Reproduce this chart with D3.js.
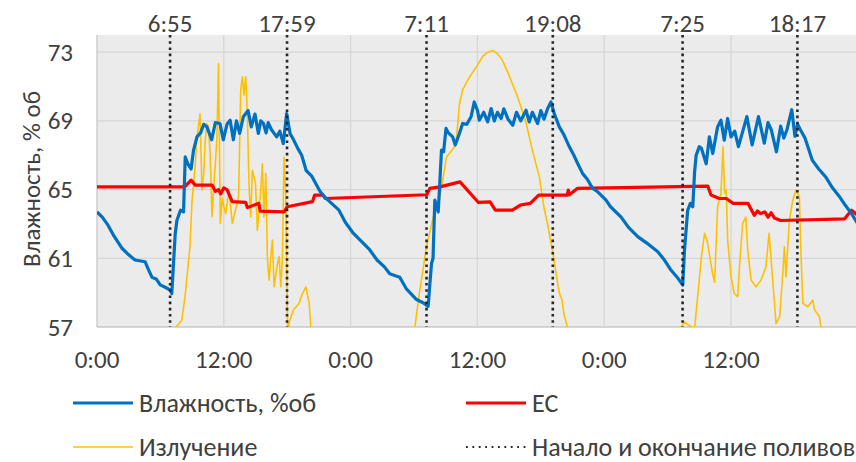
<!DOCTYPE html>
<html>
<head>
<meta charset="utf-8">
<script src="https://cdn.jsdelivr.net/npm/d3@7/dist/d3.min.js"></script>
<style>
  html, body { margin: 0; padding: 0; background: #fff; }
  svg { display: block; }
  text { font-family: Carlito, "Noto Sans", "Open Sans", sans-serif; fill: #404040; }
</style>
</head>
<body>
<svg id="chart" width="856" height="462"></svg>
<script>
// ---------------- DATA ----------------
const xTickHours = [0, 12, 24, 36, 48, 60];
const xTickLabels = ["0:00", "12:00", "0:00", "12:00", "0:00", "12:00"];
const yTicks = [57, 61, 65, 69, 73];

const irrigationHours = [6 + 55/60, 17 + 59/60, 24 + 7 + 11/60, 24 + 19 + 8/60, 48 + 7 + 25/60, 48 + 18 + 17/60];
const irrigationLabels = ["6:55", "17:59", "7:11", "19:08", "7:25", "18:17"];

// Humidity, % vol
const humHours = [0,0.5,1.07,1.6,2.34,3.0,3.6,4.55,4.9,5.2,5.6,5.98,6.5,6.93,7.08,7.24,7.4,7.56,7.9,8.19,8.35,8.6,8.9,9.14,9.46,9.8,10.1,10.4,10.85,11.2,11.64,11.95,12.3,12.6,12.9,13.2,13.5,13.85,14.3,14.6,14.95,15.27,15.5,15.75,16.0,16.2,16.5,17.0,17.3,17.63,17.95,18.27,18.6,19.0,19.37,19.8,20.3,21.1,21.5,22.2,22.9,23.5,24.2,25.0,25.8,26.5,27.2,27.7,28.65,29.3,30.24,30.9,31.34,31.5,31.66,31.8,31.97,32.15,32.29,32.45,32.6,32.8,33.03,33.25,33.66,33.9,34.3,34.6,35.0,35.4,35.7,36.0,36.18,36.6,36.97,37.3,37.6,37.9,38.24,38.5,38.9,39.35,39.7,40.1,40.6,40.9,41.2,41.7,42.0,42.3,42.65,42.96,43.27,43.75,44.18,44.7,45.13,45.5,45.96,46.4,46.9,47.34,48.17,48.6,49.6,50.3,51.2,52.0,53.07,53.7,54.33,54.9,55.43,55.6,55.9,56.15,56.38,56.55,56.7,57.0,57.2,57.65,57.95,58.27,58.73,59.05,59.36,59.68,60.0,60.35,60.7,61.5,62.0,62.6,63.15,63.5,63.8,64.3,64.7,65.0,65.3,65.75,66.05,66.3,66.55,67.0,67.7,68.3,69.0,69.6,70.25,70.8,71.4,72.0];
const humValues = [63.7,63.4,62.9,62.3,61.6,61.2,60.9,60.8,60.3,59.9,59.8,59.45,59.3,59.15,58.95,60.7,62.4,63.2,63.8,63.7,66.9,66.5,66.2,67.3,68.07,68.3,68.8,68.65,67.9,68.9,68.85,67.9,68.8,69.04,67.9,69.0,68.27,69.24,69.6,68.65,69.4,68.27,69.0,68.85,68.3,68.9,68.5,68.07,68.4,67.68,69.43,68.27,67.9,67.4,67.0,66.1,65.8,64.9,64.6,64.2,63.8,63.1,62.5,62.0,61.5,60.9,60.5,60.1,59.9,59.2,58.6,58.4,58.2,59.5,60.7,61.0,64.39,64.0,63.7,65.5,67.3,67.2,68.56,68.3,68.07,67.6,68.27,68.85,68.8,69.24,70.1,69.62,69.04,69.5,68.94,69.72,69.0,69.5,69.14,69.7,69.1,68.75,69.5,69.0,69.62,68.94,69.5,68.85,69.6,69.1,69.72,70.1,69.43,68.65,68.2,67.49,67.0,66.5,65.93,65.6,65.07,64.9,64.39,64.0,63.4,62.8,62.25,61.9,61.38,60.9,60.3,59.9,59.44,61.5,63.8,64.2,64.0,66.0,67.0,67.5,67.4,66.5,68.07,67.1,68.65,69.04,67.88,69.14,68.07,68.4,67.5,69.25,67.6,69.25,67.7,68.9,68.5,67.2,68.7,68.0,68.5,69.65,68.1,68.8,68.5,68.0,66.7,66.2,65.7,65.1,64.6,64.1,63.6,63.0];

// EC (plotted on the same visual scale)
const ecHours = [0,8.3,8.9,9.3,10.9,11.2,11.5,11.7,12.0,12.3,12.8,14.07,14.23,15.3,15.45,17.7,18.0,20.4,20.6,21.4,21.6,31.2,31.5,32.45,34.35,36.1,37.2,37.7,39.3,40.07,41.0,41.8,44.5,44.6,44.7,45.45,53.7,57.8,58.1,58.9,59.55,60.2,61.6,62.2,62.5,62.8,63.2,63.5,63.8,64.1,64.7,70.75,71.4,72.0];
const ecValues = [65.16,65.16,65.55,65.26,65.26,64.9,65.0,64.75,65.1,65.0,64.3,64.25,63.95,64.2,63.75,63.7,64.0,64.3,64.68,64.68,64.48,64.7,65.07,65.16,65.45,64.25,64.29,63.8,63.8,64.1,64.2,64.68,64.68,64.97,64.7,65.07,65.16,65.2,64.68,64.48,64.48,64.2,64.2,63.5,63.75,63.6,63.7,63.4,63.65,63.35,63.2,63.3,63.8,63.5];

// Radiation (secondary axis, not shown; values read on the visible scale)
const radHours = [0,7.3,7.5,8.02,8.33,8.64,8.8,8.98,9.3,9.43,9.75,9.93,10.1,10.25,10.4,10.56,10.72,10.88,11.05,11.2,11.35,11.5,11.67,11.85,12.0,12.17,12.5,12.8,13.1,13.4,13.6,13.76,13.9,14.07,14.23,14.39,14.55,14.7,15.0,15.18,15.5,15.65,15.8,15.97,16.13,16.29,16.45,16.6,16.76,17.08,17.24,17.39,17.55,17.7,17.87,18.03,18.1,18.2,18.6,19.13,19.4,19.77,20.08,20.24,20.5,29.7,30.08,30.55,31.18,32.13,32.4,33.08,33.97,34.3,34.6,35.2,35.96,36.5,36.97,37.45,37.9,38.3,38.86,39.8,40.6,41.2,41.86,42.29,42.76,43.2,43.7,43.85,44.0,44.18,44.5,44.8,55.0,55.28,55.6,56.0,56.55,56.9,57.2,57.5,57.75,58.26,58.45,58.73,59.05,59.24,59.4,59.55,59.68,60.0,60.3,60.63,60.8,61.1,61.4,61.58,61.9,62.37,62.84,63.3,63.6,63.8,64.26,64.6,64.9,65.05,65.2,65.52,65.84,66.15,66.47,66.63,66.8,67.27,67.74,67.9,68.37,68.5,68.8,72.0];
const radValues = [50,50,57,57.4,58.76,60.7,61.67,64.2,66.5,67.88,69.4,64.97,66.0,67.88,68.85,68.65,66.9,63.4,65.2,66.5,68.0,72.34,63.03,64.5,64.0,63.6,65.0,63.03,63.8,64.58,70.8,71.56,70.5,71.56,69.4,65.16,63.4,66.13,65.36,62.64,64.97,66.5,63.4,65.93,60.9,59.73,61.1,62.06,59.34,60.7,61.1,59.34,61.0,66.9,64.58,57.2,56.5,57.3,58.0,58.38,58.9,59.34,58.38,57.0,50,50,57,59.15,61.67,64.2,64.39,66.9,67.6,70.0,70.8,71.5,72.2,72.75,73.0,73.1,72.9,72.6,71.85,70.4,68.9,67.3,65.74,64.0,62.6,61.1,59.15,58.8,58.6,57.8,57.0,50,50,57,57.3,57.1,56.9,59.15,61.1,62.45,62.0,60.1,59.6,64.0,64.78,67.49,64.8,64.97,62.06,59.93,58.96,58.76,60.5,63.03,63.4,61.48,59.73,59.34,59.73,60.5,62.45,60.9,57.2,57.6,60.1,61.67,59.93,63.2,64.39,64.97,64.58,61.1,58.38,58.18,58.57,58.0,57.6,57.0,50,50];

const seriesNames = ["Влажность, %об", "EC", "Излучение", "Начало и окончание поливов"];
const yTitle = "Влажность, % об";

// ---------------- CHART ----------------
const svg = d3.select("#chart");
const plot = { left: 97, right: 856, top: 35, bottom: 327 };
const pxPerHour = 10.567;
const FS = 25;
const LFS = 26;

const x = d3.scaleLinear().domain([0, 72]).range([plot.left, plot.left + 72 * pxPerHour]);
const y = d3.scaleLinear().domain([57, 74]).range([plot.bottom, plot.top]);

svg.append("defs").append("clipPath").attr("id", "clip")
  .append("rect")
  .attr("x", plot.left).attr("y", plot.top)
  .attr("width", plot.right - plot.left).attr("height", plot.bottom - plot.top);

// background
svg.append("rect")
  .attr("x", plot.left).attr("y", plot.top)
  .attr("width", plot.right - plot.left).attr("height", plot.bottom - plot.top)
  .attr("fill", "#ebebeb");

// horizontal gridlines
svg.append("g").selectAll("line").data(yTicks).join("line")
  .attr("x1", plot.left).attr("x2", plot.right)
  .attr("y1", d => y(d)).attr("y2", d => y(d))
  .attr("stroke", d => d === 57 ? "#c8c8c8" : "#d6d6d6").attr("stroke-width", 1.3);

// vertical gridlines
svg.append("g").selectAll("line").data(xTickHours).join("line")
  .attr("x1", d => x(d)).attr("x2", d => x(d))
  .attr("y1", plot.top).attr("y2", plot.bottom)
  .attr("stroke", d => d === 0 ? "#c8c8c8" : "#d6d6d6").attr("stroke-width", 1.3);

// y tick labels
svg.append("g").selectAll("text").data(yTicks).join("text")
  .attr("x", 73).attr("y", d => y(d)).attr("dy", "0.34em")
  .attr("text-anchor", "end").attr("font-size", FS)
  .text(d => d);

// x tick labels
svg.append("g").selectAll("text").data(xTickHours).join("text")
  .attr("x", d => x(d)).attr("y", 368)
  .attr("text-anchor", "middle").attr("font-size", FS)
  .text((d, i) => xTickLabels[i]);

// y title
svg.append("text")
  .attr("transform", `translate(40,${(plot.top + plot.bottom) / 2 - 2}) rotate(-90)`)
  .attr("text-anchor", "middle").attr("font-size", FS)
  .text(yTitle);

const g = svg.append("g").attr("clip-path", "url(#clip)");
const line = d3.line().x(d => x(d[0])).y(d => y(d[1]));

// radiation
g.append("path").datum(radHours.map((h, i) => [h, radValues[i]]))
  .attr("d", line).attr("fill", "none").attr("stroke", "#ffc000").attr("stroke-width", 1.6)
  .attr("stroke-linejoin", "round");
// EC
g.append("path").datum(ecHours.map((h, i) => [h, ecValues[i]]))
  .attr("d", line).attr("fill", "none").attr("stroke", "#ff0000").attr("stroke-width", 3.2)
  .attr("stroke-linejoin", "round");
// humidity
g.append("path").datum(humHours.map((h, i) => [h, humValues[i]]))
  .attr("d", line).attr("fill", "none").attr("stroke", "#0070c0").attr("stroke-width", 3.2)
  .attr("stroke-linejoin", "round");

// irrigation dotted lines
svg.append("g").selectAll("line").data(irrigationHours).join("line")
  .attr("x1", d => x(d)).attr("x2", d => x(d))
  .attr("y1", plot.top).attr("y2", plot.bottom)
  .attr("stroke", "#262626").attr("stroke-width", 2.6).attr("stroke-dasharray", "2.6 3.6");

svg.append("g").selectAll("text").data(irrigationHours).join("text")
  .attr("x", d => x(d)).attr("y", 32)
  .attr("text-anchor", "middle").attr("font-size", FS)
  .text((d, i) => irrigationLabels[i]);

// legend
const legendItems = [
  { name: seriesNames[0], color: "#0070c0", w: 3.2, dash: null, lx: 73, ly: 403 },
  { name: seriesNames[1], color: "#ff0000", w: 3.2, dash: null, lx: 466, ly: 403 },
  { name: seriesNames[2], color: "#ffc000", w: 1.6, dash: null, lx: 73, ly: 447 },
  { name: seriesNames[3], color: "#262626", w: 2, dash: "1.8 4.6", lx: 466, ly: 447 }
];
const lg = svg.append("g").selectAll("g").data(legendItems).join("g");
lg.append("line")
  .attr("x1", d => d.lx).attr("x2", d => d.lx + 60)
  .attr("y1", d => d.ly).attr("y2", d => d.ly)
  .attr("stroke", d => d.color).attr("stroke-width", d => d.w)
  .attr("stroke-dasharray", d => d.dash);
lg.append("text")
  .attr("x", d => d.lx + 66).attr("y", d => d.ly).attr("dy", "0.34em")
  .attr("font-size", LFS)
  .text(d => d.name);
</script>
</body>
</html>
